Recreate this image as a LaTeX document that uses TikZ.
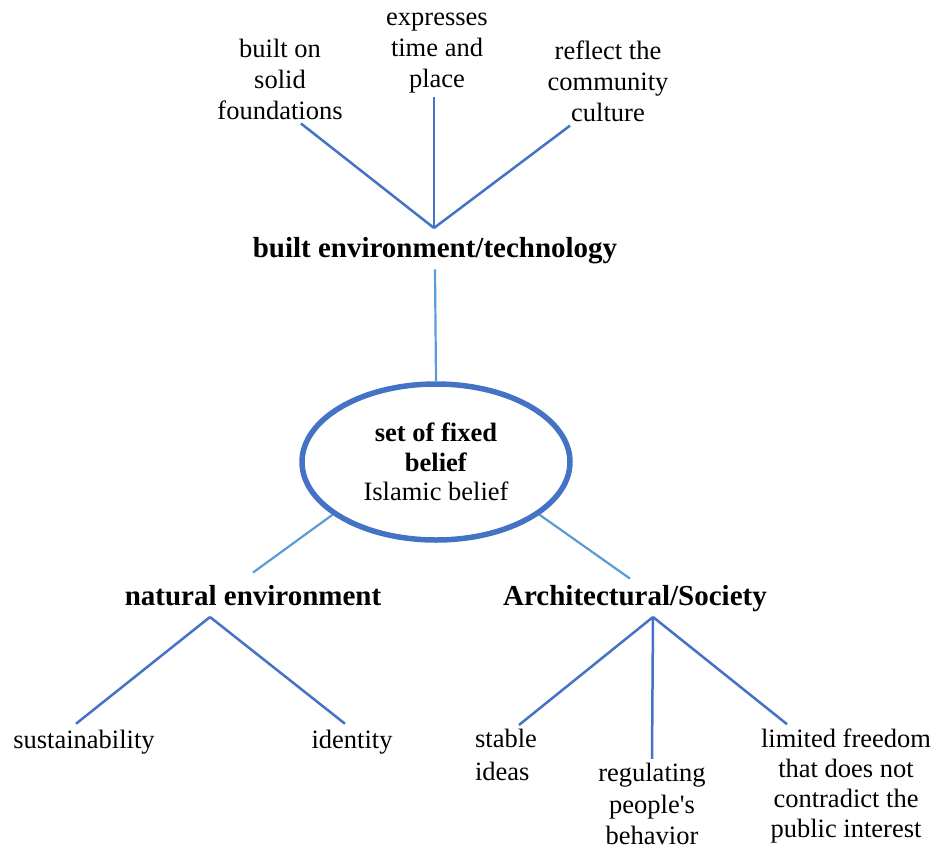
\documentclass[tikz,border=0pt]{standalone}
\usepackage{fontspec}
\setmainfont{Liberation Serif}
\usepackage{tikz}
\usetikzlibrary{positioning, shapes}
\definecolor{azul}{RGB}{68, 114, 196}
\definecolor{cielo}{RGB}{91, 155, 213}
\tikzset{
    hub/.style={draw=azul, ellipse, line width=5.5pt, minimum width=268pt, minimum height=156pt, inner sep=0pt, align=center, font=\fontsize{26.5}{29.5}\selectfont},
    head/.style={inner sep=5pt, font=\fontsize{29}{34}\selectfont\bfseries},
    leaf/.style={inner sep=4pt, align=center, font=\fontsize{26.5}{31}\selectfont},
    conn/.style={-, azul, line width=2.5pt},
    connLow/.style={-, cielo, line width=2.2pt},
}
\begin{document}
\begin{tikzpicture}[x=1pt, y=-1pt]
    \useasboundingbox (0,0) rectangle (934,851);

    % upper branch
    \node [leaf] (builton) at (280,79) {built on\\solid\\foundations};
    \node [leaf] (expresses) at (437,53) {expresses\\time and\\place};
    \node [leaf] (reflect) at (608,81) {reflect the\\community\\culture};
    \coordinate (topjoin) at (434,228);
    \node [head] (builtenv) at (435,251) {built environment/technology};

    % centre
    \node [hub] (belief) at (436,462) {\textbf{set of fixed}\\\textbf{belief}\\Islamic belief};

    % lower branches
    \node [head] (natural) at (253,596) {natural environment};
    \node [head] (arch) at (635,599) {Architectural/Society};
    \coordinate (natjoin) at (210,617);
    \coordinate (archjoin) at (653,617);

    \node [leaf] (sustain) at (84,742) {sustainability};
    \node [leaf] (identity) at (352,742) {identity};
    \node [leaf, align=left] (stable) at (506,755) {stable\\[2pt]ideas};
    \node [leaf] (regulating) at (652,804) {regulating\\[1pt]people\textquotesingle s\\behavior};
    \node [leaf, font=\fontsize{26.5}{30.3}\selectfont] (limited) at (846,786) {limited freedom\\that does not\\contradict the\\public interest};

    \draw[conn] ([xshift=21pt]builton.south) -- (topjoin);
    \draw[conn] ([xshift=-3pt]expresses.south) -- (topjoin);
    \draw[conn] ([xshift=-38pt]reflect.south) -- (topjoin);

    \draw[connLow] (builtenv.south) -- (belief.north);
    \draw[connLow] (belief.207) -- ([yshift=8pt]natural.north);
    \draw[connLow] (belief.333) -- ([xshift=-5pt, yshift=2pt]arch.north);

    \draw[conn] (natjoin) -- ([xshift=-8pt, yshift=2pt]sustain.north);
    \draw[conn] (natjoin) -- ([xshift=-7pt, yshift=2pt]identity.north);

    \draw[conn] (archjoin) -- ([xshift=13pt]stable.north);
    \draw[conn] (archjoin) -- (regulating.north);
    \draw[conn] (archjoin) -- ([xshift=-59pt]limited.north);
\end{tikzpicture}
\end{document}
